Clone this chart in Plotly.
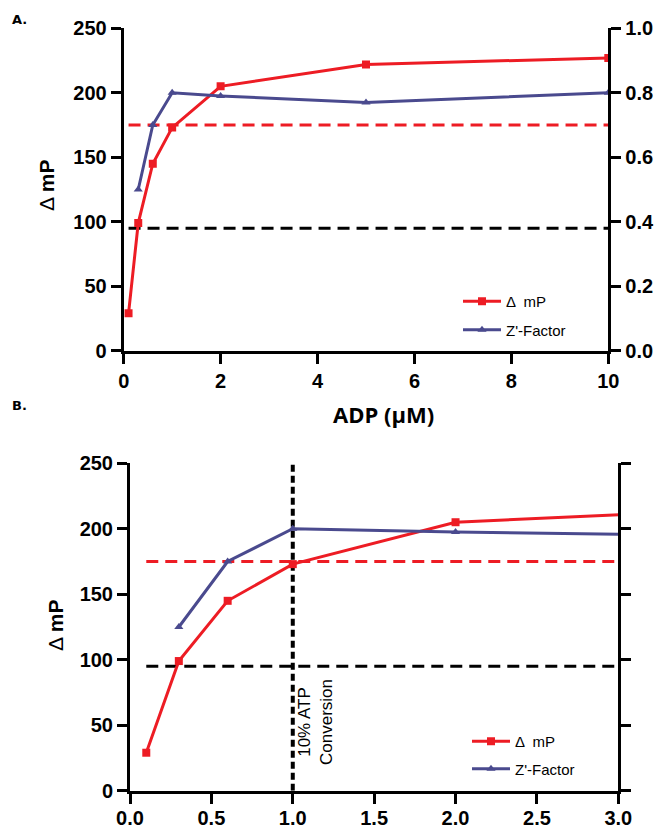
import plotly.graph_objects as go

# ---------------- data ----------------
adp = [0.1, 0.3, 0.6, 1, 2, 5, 10]
delta_mp = [29, 99, 145, 173, 205, 222, 227]
z_adp = [0.3, 0.6, 1, 2, 5, 10]
z_factor = [0.50, 0.70, 0.80, 0.79, 0.77, 0.80]
thresh_x = [0.1, 10]
mp_threshold = [175, 175]
z_threshold_mp = [95, 95]
conv_x = [1, 1]
conv_y = [0, 250]

W, H = 659, 830
RED = "#ED1C24"
BLUE = "#4A4A8E"


def px(x):
    return x / W


def py(y):
    return 1 - y / H


fig = go.Figure()

# ---- Panel A ----
fig.add_trace(go.Scatter(x=thresh_x, y=mp_threshold, mode="lines",
                         line=dict(color=RED, width=3, dash="12px,7px"),
                         xaxis="x", yaxis="y", showlegend=False, hoverinfo="skip"))
fig.add_trace(go.Scatter(x=thresh_x, y=z_threshold_mp, mode="lines",
                         line=dict(color="black", width=3, dash="12px,7px"),
                         xaxis="x", yaxis="y", showlegend=False, hoverinfo="skip"))
fig.add_trace(go.Scatter(x=adp, y=delta_mp, mode="lines+markers", name="Δ  mP",
                         line=dict(color=RED, width=3),
                         marker=dict(symbol="square", size=8, color=RED),
                         xaxis="x", yaxis="y", legend="legend", legendgroup="a1"))
fig.add_trace(go.Scatter(x=z_adp, y=z_factor, mode="lines+markers", name="Z'-Factor",
                         line=dict(color=BLUE, width=3),
                         marker=dict(symbol="triangle-up", size=8, color=BLUE),
                         xaxis="x", yaxis="y2", legend="legend", legendgroup="a2"))

# ---- Panel B ----
fig.add_trace(go.Scatter(x=thresh_x, y=mp_threshold, mode="lines",
                         line=dict(color=RED, width=3, dash="12px,7px"),
                         xaxis="x2", yaxis="y3", showlegend=False, hoverinfo="skip"))
fig.add_trace(go.Scatter(x=thresh_x, y=z_threshold_mp, mode="lines",
                         line=dict(color="black", width=3, dash="12px,7px"),
                         xaxis="x2", yaxis="y3", showlegend=False, hoverinfo="skip"))
fig.add_trace(go.Scatter(x=conv_x, y=conv_y, mode="lines",
                         line=dict(color="black", width=4, dash="7px,4px"),
                         xaxis="x2", yaxis="y3", showlegend=False, hoverinfo="skip"))
fig.add_trace(go.Scatter(x=adp, y=delta_mp, mode="lines+markers", name="Δ  mP",
                         line=dict(color=RED, width=3),
                         marker=dict(symbol="square", size=8, color=RED),
                         xaxis="x2", yaxis="y3", legend="legend2", legendgroup="b1"))
fig.add_trace(go.Scatter(x=z_adp, y=z_factor, mode="lines+markers", name="Z'-Factor",
                         line=dict(color=BLUE, width=3),
                         marker=dict(symbol="triangle-up", size=8, color=BLUE),
                         xaxis="x2", yaxis="y4", legend="legend2", legendgroup="b2"))

tickfont = dict(family="Liberation Sans, Arial, sans-serif", size=20, color="black", weight="bold")
axis_common = dict(showline=True, linewidth=3, linecolor="black", ticks="outside",
                   ticklen=10, tickwidth=3, tickcolor="black", showgrid=False,
                   zeroline=False, tickfont=tickfont, fixedrange=True, automargin=False)

A_x = [px(123.7), px(608.3)]
A_y = [py(350.7), py(28.3)]
B_x = [px(130), px(618.3)]
B_y = [py(790.7), py(463.3)]

legend_font = dict(family="Liberation Sans, Arial, sans-serif", size=15, color="black")
fig.update_layout(
    width=W, height=H,
    margin=dict(l=0, r=0, t=0, b=0, autoexpand=False),
    paper_bgcolor="white", plot_bgcolor="white",
    xaxis=dict(domain=A_x, range=[0, 10], dtick=2, anchor="y", **axis_common),
    yaxis=dict(domain=A_y, range=[0, 250], dtick=50, anchor="x", **axis_common),
    yaxis2=dict(range=[0, 1], dtick=0.2, tickformat=".1f", overlaying="y", side="right",
                anchor="x", **axis_common),
    xaxis2=dict(domain=B_x, range=[0, 3], dtick=0.5, tickformat=".1f", anchor="y3",
                ticklabelstandoff=-3, **axis_common),
    yaxis3=dict(domain=B_y, range=[0, 250], dtick=50, anchor="x2", **axis_common),
    yaxis4=dict(range=[0, 1], dtick=0.2, overlaying="y3", side="right", anchor="x2",
                showticklabels=False, **axis_common),
    legend=dict(x=px(458), y=py(285), xanchor="left", yanchor="top", itemwidth=38,
                bgcolor="rgba(0,0,0,0)", traceorder="grouped", tracegroupgap=6,
                font=legend_font),
    legend2=dict(x=px(467), y=py(725), xanchor="left", yanchor="top", itemwidth=38,
                 bgcolor="rgba(0,0,0,0)", traceorder="grouped", tracegroupgap=5,
                 font=legend_font),
    showlegend=True,
)

title_font = dict(family="Liberation Sans, Arial, sans-serif", size=21, color="black")
annotations = [
    dict(text="A.", x=px(10), y=py(20), xanchor="left", yanchor="middle",
         font=dict(family="DejaVu Sans, sans-serif", size=13, color="black", weight="bold")),
    dict(text="B.", x=px(10), y=py(405), xanchor="left", yanchor="middle",
         font=dict(family="DejaVu Sans, sans-serif", size=13, color="black", weight="bold")),
    dict(text="Δ <b>mP</b>", x=px(46), y=py(186), textangle=-90,
         xanchor="center", yanchor="middle", font=title_font),
    dict(text="Δ <b>mP</b>", x=px(55), y=py(626), textangle=-90,
         xanchor="center", yanchor="middle", font=title_font),
    dict(text="<b>ADP (µM)</b>", x=px(383), y=py(414), xanchor="center", yanchor="middle",
         font=dict(family="Open Sans, sans-serif", size=22, color="black")),
    dict(text="10% ATP<br>Conversion", x=px(315), y=py(722), textangle=-90,
         xanchor="center", yanchor="middle",
         font=dict(family="Liberation Sans, Arial, sans-serif", size=17, color="black")),
]
for a in annotations:
    a.update(xref="paper", yref="paper", showarrow=False)
fig.update_layout(annotations=annotations)

fig.write_html("out.html",
               config={"displayModeBar": False},
               post_script="document.body.style.margin='0px';document.body.style.overflow='hidden';")
